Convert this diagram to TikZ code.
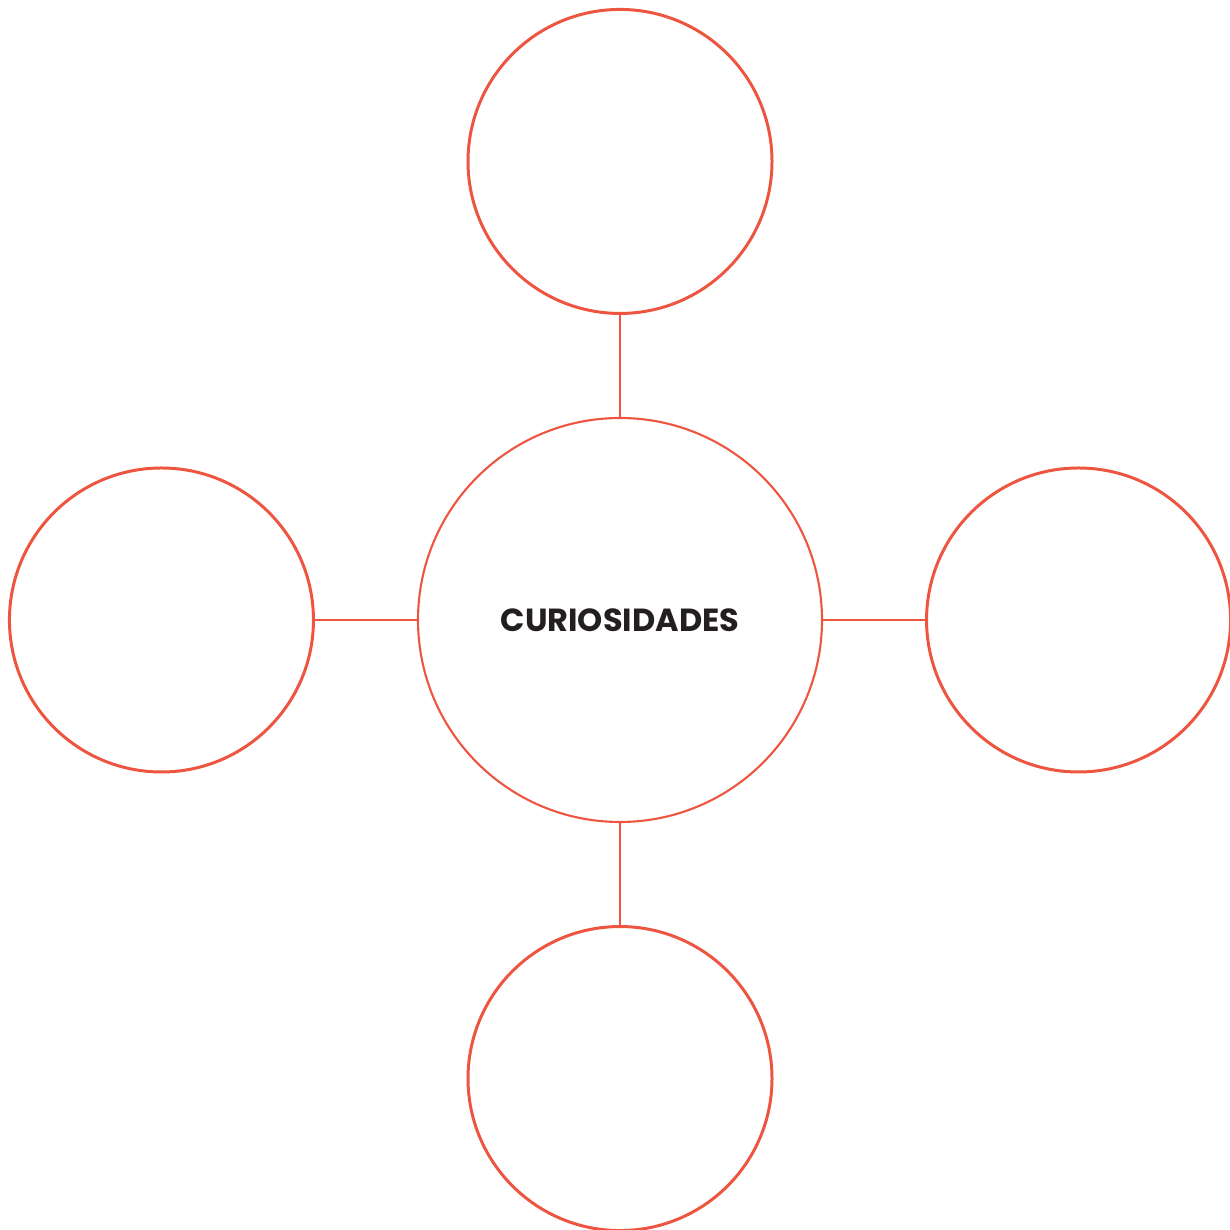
\documentclass[tikz,border=0pt]{standalone}
\usepackage{fontspec}
\usepackage{xcolor}
\usepackage{tikz}
\usetikzlibrary{positioning}

\newfontfamily\hubfont{Poppins}[UprightFont=* Bold]
\definecolor{coral}{HTML}{EE5540}
\definecolor{ink}{HTML}{231F20}

\begin{document}
\begin{tikzpicture}[
		bubble/.style={circle, draw=coral, line width=0.85pt, minimum size=3.04cm, inner sep=0pt},
		hub/.style={circle, draw=coral, line width=0.6pt, minimum size=4.04cm, inner sep=0pt},
		link/.style={draw=coral, line width=0.6pt},
		node distance=1.02cm
	]
		
		% =========================================================
		% Frame
		% =========================================================
		\useasboundingbox (0,0) rectangle (12.3,12.3);
		
		% =========================================================
		% Central bubble
		% =========================================================
		\node[hub, text=ink] (hub) at (6.2,6.1) {\hubfont\fontsize{9.1}{11}\selectfont CURIOSIDADES};
		
		% =========================================================
		% Outer bubbles
		% =========================================================
		\node[bubble, above=of hub] (top) {};
		\node[bubble, below=of hub] (bottom) {};
		\node[bubble, left=of hub] (left) {};
		\node[bubble, right=of hub] (right) {};
		
		% Links from hub
		\draw[link] (hub) -- (top);
		\draw[link] (hub) -- (bottom);
		\draw[link] (hub) -- (left);
		\draw[link] (hub) -- (right);
		
	\end{tikzpicture}
\end{document}
